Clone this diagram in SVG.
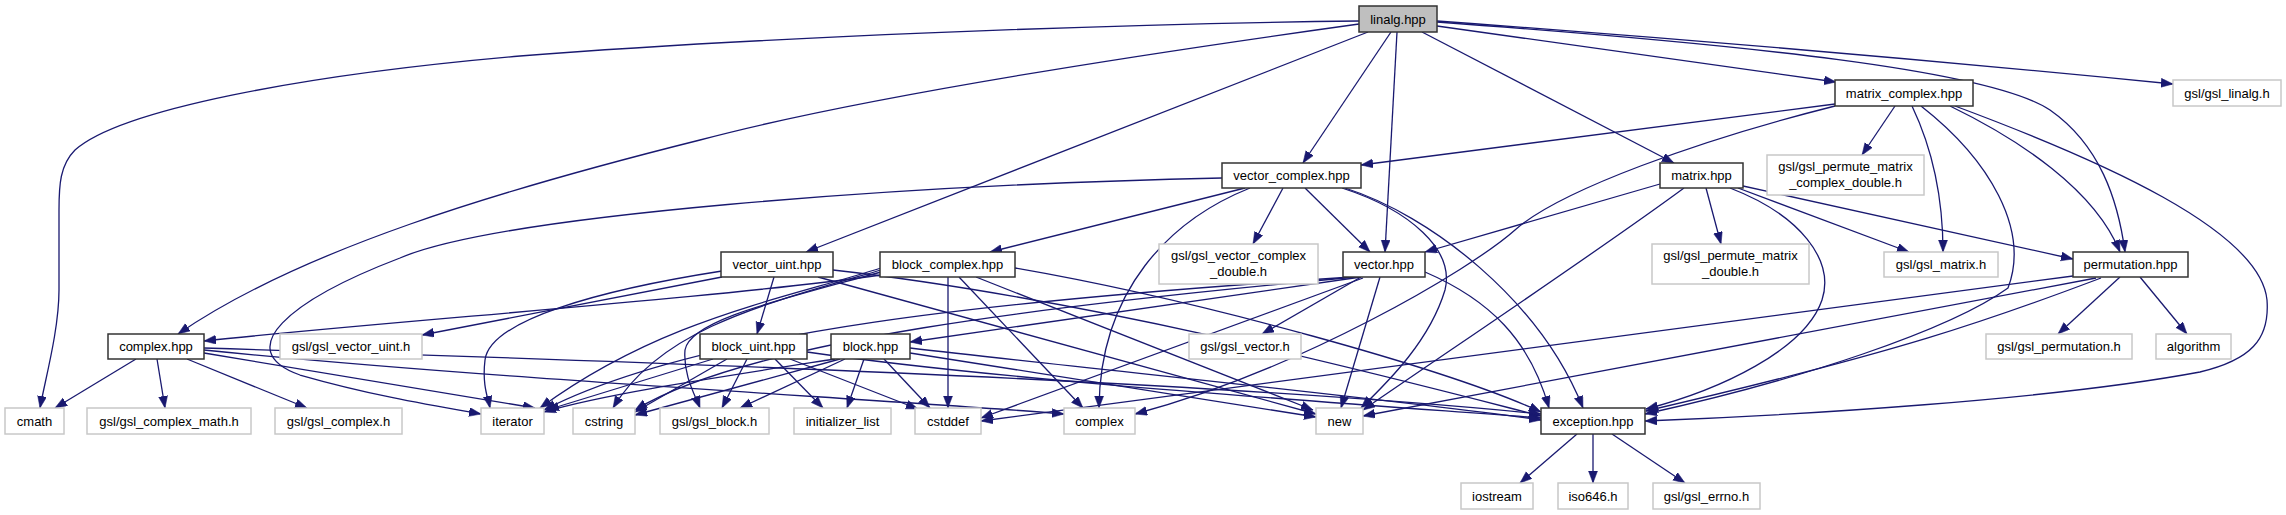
<svg xmlns="http://www.w3.org/2000/svg" width="2286" height="515" viewBox="0 0 2286 515">
<style>
.n rect{fill:#fff;stroke:#333;stroke-width:1.5}
.x rect{fill:#fff;stroke:#c8c8c8;stroke-width:1.5}
.r rect{fill:#bfbfbf;stroke:#333;stroke-width:1.5}
text{font-family:"Liberation Sans",Arial,sans-serif;font-size:13px;fill:#000;text-anchor:middle}
#edges path{fill:none;stroke:#191970;stroke-width:1.3;marker-end:url(#ah)}
</style>
<defs>
<marker id="ah" markerUnits="userSpaceOnUse" markerWidth="14" markerHeight="10" refX="12" refY="4.5" orient="auto">
<path d="M0,0 L12,4.5 L0,9 z" fill="#191970" stroke="#191970" stroke-width="0.5"/>
</marker>
</defs>
<rect width="2286" height="515" fill="#fff"/>
<g id="edges">
<!-- linalg -->
<path d="M1359,21 C1100,24 750,38 520,56 C300,75 120,110 75,150 C60,165 59,185 59,210 L59,290 C59,330 45,380 40,408"/>
<path d="M1359,24 C1100,60 850,100 700,140 C500,190 300,250 178,334"/>
<path d="M1368,32 L806,252"/>
<path d="M1391,32 L1303,163"/>
<path d="M1397,32 L1385,252"/>
<path d="M1422,32 L1674,163"/>
<path d="M1437,26 L1836,82"/>
<path d="M1437,21 C1700,40 1950,62 2173,84"/>
<path d="M1437,22 C1750,45 1990,70 2050,110 C2100,145 2118,200 2125,252"/>
<!-- matrix_complex -->
<path d="M1835,104 L1361,165"/>
<path d="M1895,106 L1862,155"/>
<path d="M1912,106 C1933,150 1943,200 1943,252"/>
<path d="M1950,106 C2020,140 2095,190 2120,252"/>
<path d="M1955,106 C2100,160 2260,230 2267,300 C2270,340 2250,360 2200,372 C2050,400 1800,415 1645,421"/>
<path d="M1835,106 C1700,140 1560,190 1515,230 C1470,270 1300,370 1135,414"/>
<path d="M1921,106 C1990,160 2030,230 2008,288 C1950,330 1800,380 1645,414"/>
<!-- vector_complex -->
<path d="M1222,178 C900,185 500,215 400,258 C290,300 230,350 300,375 C370,395 430,405 481,414"/>
<path d="M1245,188 L990,252"/>
<path d="M1283,188 L1253,244"/>
<path d="M1305,188 L1370,252"/>
<path d="M1250,188 C1170,220 1100,290 1099,408"/>
<path d="M1342,188 C1410,210 1455,250 1445,290 C1430,340 1390,380 1361,408"/>
<path d="M1345,188 C1430,215 1540,300 1583,408"/>
<!-- matrix -->
<path d="M1660,184 L1425,252"/>
<path d="M1706,188 L1721,244"/>
<path d="M1738,188 L1909,252"/>
<path d="M1743,186 L2073,259"/>
<path d="M1684,188 C1600,250 1450,350 1363,410"/>
<path d="M1730,188 C1800,215 1835,260 1822,300 C1805,350 1720,390 1646,409"/>
<!-- vector_uint -->
<path d="M722,277 L422,335"/>
<path d="M722,271 C600,290 490,320 485,360 C482,385 488,398 490,408"/>
<path d="M774,277 L757,334"/>
<path d="M818,277 L1316,414"/>
<path d="M833,270 C1100,300 1400,380 1541,416"/>
<!-- block_complex -->
<path d="M881,275 C700,300 400,320 204,341"/>
<path d="M881,268 C780,300 660,320 540,408"/>
<path d="M881,270 C760,305 660,330 613,408"/>
<path d="M881,272 C780,300 690,320 685,350 C683,375 695,395 700,408"/>
<path d="M948,277 L948,408"/>
<path d="M959,277 L1083,408"/>
<path d="M976,277 L1313,410"/>
<path d="M1015,268 C1200,300 1450,370 1541,412"/>
<!-- vector -->
<path d="M1361,277 L910,342"/>
<path d="M1361,277 L1262,334"/>
<path d="M1380,277 L1341,408"/>
<path d="M1352,277 C1000,300 700,330 544,410"/>
<path d="M1356,277 C1050,305 750,340 635,410"/>
<path d="M1363,278 L981,418"/>
<path d="M1425,272 C1490,300 1530,340 1549,408"/>
<!-- complex.hpp -->
<path d="M136,359 L55,408"/>
<path d="M157,359 L165,408"/>
<path d="M187,359 L307,408"/>
<path d="M204,353 L535,408"/>
<path d="M204,350 C500,380 900,400 1064,414"/>
<path d="M204,348 C600,360 1200,380 1541,414"/>
<!-- block_uint -->
<path d="M713,359 L547,410"/>
<path d="M727,359 L635,412"/>
<path d="M747,359 L722,408"/>
<path d="M775,359 L823,408"/>
<path d="M790,359 L918,409"/>
<path d="M807,352 C1000,380 1300,400 1541,418"/>
<!-- block -->
<path d="M835,359 C700,380 600,395 544,412"/>
<path d="M840,359 L635,415"/>
<path d="M845,359 L740,408"/>
<path d="M864,359 L847,408"/>
<path d="M884,359 L930,408"/>
<path d="M910,353 L1316,417"/>
<path d="M910,348 C1100,370 1400,400 1541,420"/>
<!-- permutation -->
<path d="M2120,277 L2058,334"/>
<path d="M2140,277 L2187,334"/>
<path d="M2101,278 C1990,320 1900,352 1646,411"/>
<path d="M2096,278 L1363,416"/>
<path d="M2073,276 L981,421"/>
<!-- exception -->
<path d="M1577,434 L1520,483"/>
<path d="M1593,434 L1593,483"/>
<path d="M1612,434 L1685,483"/>
</g>
<g id="linalg" class="r"><rect x="1359" y="6" width="78" height="26"/><text x="1398" y="23.5">linalg.hpp</text></g>
<g id="matrix_complex" class="n"><rect x="1835" y="80" width="138" height="26"/><text x="1904" y="97.5">matrix_complex.hpp</text></g>
<g id="gsl_linalg" class="x"><rect x="2173" y="80" width="108" height="26"/><text x="2227" y="97.5">gsl/gsl_linalg.h</text></g>
<g id="vector_complex" class="n"><rect x="1222" y="163" width="139" height="25"/><text x="1291.5" y="180">vector_complex.hpp</text></g>
<g id="matrix" class="n"><rect x="1660" y="163" width="83" height="25"/><text x="1701.5" y="180">matrix.hpp</text></g>
<g id="gsl_permute_matrix_complex_double" class="x"><rect x="1767" y="155" width="157" height="40"/><text x="1845.5" y="171">gsl/gsl_permute_matrix</text><text x="1845.5" y="187">_complex_double.h</text></g>
<g id="vector_uint" class="n"><rect x="721" y="252" width="112" height="25"/><text x="777" y="269">vector_uint.hpp</text></g>
<g id="block_complex" class="n"><rect x="880" y="252" width="135" height="25"/><text x="947.5" y="269">block_complex.hpp</text></g>
<g id="gsl_vector_complex_double" class="x"><rect x="1159" y="244" width="159" height="40"/><text x="1238.5" y="260">gsl/gsl_vector_complex</text><text x="1238.5" y="276">_double.h</text></g>
<g id="vector" class="n"><rect x="1343" y="252" width="82" height="25"/><text x="1384" y="269">vector.hpp</text></g>
<g id="gsl_permute_matrix_double" class="x"><rect x="1652" y="244" width="157" height="40"/><text x="1730.5" y="260">gsl/gsl_permute_matrix</text><text x="1730.5" y="276">_double.h</text></g>
<g id="gsl_matrix" class="x"><rect x="1884" y="252" width="114" height="25"/><text x="1941" y="269">gsl/gsl_matrix.h</text></g>
<g id="permutation" class="n"><rect x="2073" y="252" width="115" height="25"/><text x="2130.5" y="269">permutation.hpp</text></g>
<g id="complex_hpp" class="n"><rect x="108" y="334" width="96" height="25"/><text x="156" y="351">complex.hpp</text></g>
<g id="gsl_vector_uint" class="x"><rect x="280" y="334" width="142" height="25"/><text x="351" y="351">gsl/gsl_vector_uint.h</text></g>
<g id="block_uint" class="n"><rect x="700" y="334" width="107" height="25"/><text x="753.5" y="351">block_uint.hpp</text></g>
<g id="block" class="n"><rect x="831" y="334" width="79" height="25"/><text x="870.5" y="351">block.hpp</text></g>
<g id="gsl_vector" class="x"><rect x="1189" y="334" width="112" height="25"/><text x="1245" y="351">gsl/gsl_vector.h</text></g>
<g id="gsl_permutation" class="x"><rect x="1986" y="334" width="146" height="25"/><text x="2059" y="351">gsl/gsl_permutation.h</text></g>
<g id="algorithm" class="x"><rect x="2156" y="334" width="75" height="25"/><text x="2193.5" y="351">algorithm</text></g>
<g id="cmath" class="x"><rect x="5" y="408" width="59" height="26"/><text x="34.5" y="425.5">cmath</text></g>
<g id="gsl_complex_math" class="x"><rect x="87" y="408" width="164" height="26"/><text x="169" y="425.5">gsl/gsl_complex_math.h</text></g>
<g id="gsl_complex" class="x"><rect x="275" y="408" width="127" height="26"/><text x="338.5" y="425.5">gsl/gsl_complex.h</text></g>
<g id="iterator" class="x"><rect x="481" y="408" width="63" height="26"/><text x="512.5" y="425.5">iterator</text></g>
<g id="cstring" class="x"><rect x="573" y="408" width="62" height="26"/><text x="604" y="425.5">cstring</text></g>
<g id="gsl_block" class="x"><rect x="660" y="408" width="109" height="26"/><text x="714.5" y="425.5">gsl/gsl_block.h</text></g>
<g id="initializer_list" class="x"><rect x="794" y="408" width="97" height="26"/><text x="842.5" y="425.5">initializer_list</text></g>
<g id="cstddef" class="x"><rect x="915" y="408" width="66" height="26"/><text x="948" y="425.5">cstddef</text></g>
<g id="complex" class="x"><rect x="1064" y="408" width="71" height="26"/><text x="1099.5" y="425.5">complex</text></g>
<g id="new" class="x"><rect x="1316" y="408" width="47" height="26"/><text x="1339.5" y="425.5">new</text></g>
<g id="exception" class="n"><rect x="1541" y="408" width="104" height="26"/><text x="1593" y="425.5">exception.hpp</text></g>
<g id="iostream" class="x"><rect x="1461" y="483" width="72" height="26"/><text x="1497" y="500.5">iostream</text></g>
<g id="iso646" class="x"><rect x="1558" y="483" width="70" height="26"/><text x="1593" y="500.5">iso646.h</text></g>
<g id="gsl_errno" class="x"><rect x="1653" y="483" width="107" height="26"/><text x="1706.5" y="500.5">gsl/gsl_errno.h</text></g>
</svg>
